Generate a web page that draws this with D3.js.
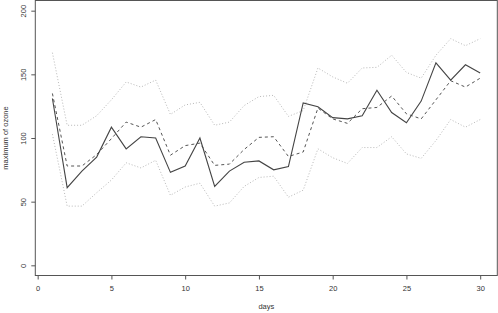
<!DOCTYPE html>
<html>
<head>
<meta charset="utf-8">
<script src="https://cdn.jsdelivr.net/npm/d3@7"></script>
<style>
  body { margin: 0; background: #fff; }
  svg text { font-family: "Liberation Sans", Arial, sans-serif; fill: #333; }
</style>
</head>
<body>
<div id="chart"></div>
<script>
"use strict";

// ---------------------------------------------------------------------------
// Data
// ---------------------------------------------------------------------------

const days = d3.range(1, 31);

const observed = [131, 61, 74, 85, 108.5, 91.5, 101, 100, 73, 78,
  100, 62, 74, 81, 82, 75, 77.5, 127.5, 124.5, 116,
  115, 117.5, 137.5, 120, 112, 129, 159, 145.5, 157.5, 151];

const predicted = [135, 78, 78, 87, 99.5, 112.5, 108.5, 114.5, 86.5, 94,
  96, 78.5, 79.5, 91, 100.5, 101, 85.5, 89, 123.5, 115,
  111.5, 123, 124, 133, 119, 115, 130, 145, 140, 147];

const upper = [167, 110, 110, 117.5, 130, 144, 140, 145.5, 118.5, 126,
  128, 110, 112.5, 125.5, 132.5, 133.5, 117, 121.5, 155, 148,
  143, 155, 155.5, 165, 151.5, 147, 165, 178, 172.5, 178];

const lower = [103, 46.5, 46.5, 57, 67, 80.5, 76.5, 82.5, 55, 61.5,
  64.5, 46.5, 49, 62, 69, 70, 53.5, 59, 91.5, 84.5,
  80, 92.5, 92.5, 101, 87.5, 84, 98, 114.5, 108.5, 114.5];

const xTicks = [0, 5, 10, 15, 20, 25, 30];
const yTicks = [0, 50, 100, 150, 200];

// ---------------------------------------------------------------------------
// Layout
// ---------------------------------------------------------------------------

const width = 498;
const height = 313;
const box = { left: 35.3, right: 497.3, top: 0.5, bottom: 275.5 };

const x = d3.scaleLinear().domain([-0.16, 31.16]).range([box.left, box.right]);
const y = d3.scaleLinear().domain([-8, 208]).range([box.bottom, box.top]);

const svg = d3.select("#chart")
  .append("svg")
  .attr("width", width)
  .attr("height", height);

// ---------------------------------------------------------------------------
// Series
// ---------------------------------------------------------------------------

const line = d3.line()
  .x((d, i) => x(days[i]))
  .y((d) => y(d));

const series = [
  { values: upper, stroke: "#b8b8b8", dash: "1,2", width: 1 },
  { values: lower, stroke: "#b8b8b8", dash: "1,2", width: 1 },
  { values: predicted, stroke: "#555", dash: "3,3", width: 1 },
  { values: observed, stroke: "#444", dash: null, width: 1.1 },
];

series.forEach((s) => {
  svg.append("path")
    .datum(s.values)
    .attr("d", line)
    .attr("fill", "none")
    .attr("stroke", s.stroke)
    .attr("stroke-width", s.width)
    .attr("stroke-dasharray", s.dash);
});

// ---------------------------------------------------------------------------
// Axes + frame
// ---------------------------------------------------------------------------

const xAxis = svg.append("g")
  .attr("transform", `translate(0,${box.bottom})`)
  .call(d3.axisBottom(x).tickValues(xTicks).tickSize(4).tickPadding(6));

const yAxis = svg.append("g")
  .attr("transform", `translate(${box.left},0)`)
  .call(d3.axisLeft(y).tickValues(yTicks).tickSize(4).tickPadding(5));

[xAxis, yAxis].forEach((g) => {
  g.select(".domain").remove();
  g.selectAll("line").attr("stroke", "#555");
  g.selectAll("text")
    .style("font-family", "'Liberation Sans', Arial, sans-serif")
    .attr("font-size", 7.5)
    .attr("fill", "#444");
});

// R style: y tick labels run parallel to the axis
yAxis.selectAll("text")
  .attr("text-anchor", "middle")
  .attr("dy", 0)
  .attr("x", null)
  .attr("y", 0)
  .attr("transform", "translate(-9.5,0) rotate(-90)");

svg.append("rect")
  .attr("x", box.left)
  .attr("y", box.top)
  .attr("width", box.right - box.left)
  .attr("height", box.bottom - box.top)
  .attr("fill", "none")
  .attr("stroke", "#555")
  .attr("stroke-width", 1);

svg.append("text")
  .attr("x", (box.left + box.right) / 2)
  .attr("y", 309)
  .attr("text-anchor", "middle")
  .attr("font-size", 7.5)
  .text("days");

svg.append("text")
  .attr("transform", `translate(8,${(box.top + box.bottom) / 2}) rotate(-90)`)
  .attr("text-anchor", "middle")
  .attr("font-size", 7.5)
  .text("maximum of ozone");
</script>
</body>
</html>
